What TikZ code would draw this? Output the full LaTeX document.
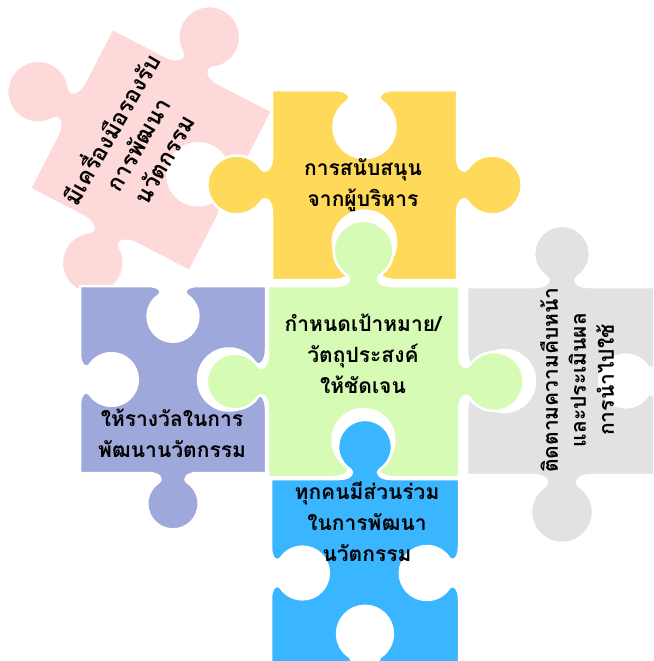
\documentclass[tikz,border=0pt]{standalone}
\usepackage{fontspec}
\newfontfamily\thaifont[Script=Thai]{Loma}
\definecolor{pinkP}{RGB}{253,217,217}
\definecolor{yellowP}{RGB}{255,217,90}
\definecolor{greenP}{RGB}{214,251,180}
\definecolor{purpleP}{RGB}{159,168,219}
\definecolor{greyP}{RGB}{226,226,226}
\definecolor{blueP}{RGB}{57,182,255}
\tikzset{
  % one puzzle tab or blank on an edge: mid point (#1,#2), turn #3,
  % #4 = 1 for a tab, -1 for a blank, #5 = size factor
  kn/.style n args={5}{insert path={
    -- ([shift={(#1,#2)},rotate=#3,yscale=#4,scale=#5]-30,0)
    .. controls ([shift={(#1,#2)},rotate=#3,yscale=#4,scale=#5]-16,0)
            and ([shift={(#1,#2)},rotate=#3,yscale=#4,scale=#5]-12,7.8)
         .. ([shift={(#1,#2)},rotate=#3,yscale=#4,scale=#5]-17,11.1)
    .. controls ([shift={(#1,#2)},rotate=#3,yscale=#4,scale=#5]-25.72,16.83)
            and ([shift={(#1,#2)},rotate=#3,yscale=#4,scale=#5]-31,26.56)
         .. ([shift={(#1,#2)},rotate=#3,yscale=#4,scale=#5]-31,37)
    .. controls ([shift={(#1,#2)},rotate=#3,yscale=#4,scale=#5]-31,54.12)
            and ([shift={(#1,#2)},rotate=#3,yscale=#4,scale=#5]-17.12,68)
         .. ([shift={(#1,#2)},rotate=#3,yscale=#4,scale=#5]0,68)
    .. controls ([shift={(#1,#2)},rotate=#3,yscale=#4,scale=#5]17.12,68)
            and ([shift={(#1,#2)},rotate=#3,yscale=#4,scale=#5]31,54.12)
         .. ([shift={(#1,#2)},rotate=#3,yscale=#4,scale=#5]31,37)
    .. controls ([shift={(#1,#2)},rotate=#3,yscale=#4,scale=#5]31,26.56)
            and ([shift={(#1,#2)},rotate=#3,yscale=#4,scale=#5]25.72,16.83)
         .. ([shift={(#1,#2)},rotate=#3,yscale=#4,scale=#5]17,11.1)
    .. controls ([shift={(#1,#2)},rotate=#3,yscale=#4,scale=#5]12,7.8)
            and ([shift={(#1,#2)},rotate=#3,yscale=#4,scale=#5]16,0)
         .. ([shift={(#1,#2)},rotate=#3,yscale=#4,scale=#5]30,0)
  }},
  piece/.style={draw=white, line width=2.5pt, line join=round},
  label/.style={text=black, align=center, font=\thaifont\bfseries\fontsize{21}{31}\selectfont, inner sep=0pt},
}
\begin{document}
\begin{tikzpicture}[x=1pt,y=-1pt]
\clip (0,0) rectangle (653,661);
\fill[white] (0,0) rectangle (653,661);

% tilted pink piece
\begin{scope}[shift={(151,150)},rotate=-27.3]
  \filldraw[piece, fill=pinkP] (90,-90) [kn={0}{-90}{180}{1}{1}] -- (-90,-90)
    [kn={-90}{0}{-90}{1}{1}] -- (-90,90)
    [kn={0}{90}{0}{1}{1}] -- (90,90)
    [kn={90}{0}{90}{-1}{1}] -- cycle;
  \node[label, rotate=60, font=\thaifont\bfseries\fontsize{23}{30}\selectfont] (tools) at (-17,1) {มีเครื่องมือรองรับ\\การพัฒนา\\นวัตกรรม};
\end{scope}

% yellow piece
\filldraw[piece, fill=yellowP] (457,90) [kn={364.5}{90}{180}{-1}{1}] -- (272,90)
  [kn={272}{185}{-90}{1}{0.95}] -- (272,280)
  [kn={364.5}{280}{0}{-1}{1.02}] -- (457,280)
  [kn={457}{185}{90}{1}{0.95}] -- cycle;

% purple piece
\filldraw[piece, fill=purpleP] (266,286) [kn={173}{286}{180}{-1}{0.82}] -- (80,286)
  [kn={80}{379.5}{-90}{-1}{0.85}] -- (80,473)
  [kn={173}{473}{0}{1}{0.83}] -- (266,473)
  [kn={266}{379.5}{90}{-1}{1}] -- cycle;

% grey piece
\filldraw[piece, fill=greyP] (657,287) [kn={562}{287}{180}{1}{0.9}] -- (467,287)
  [kn={467}{381}{-90}{-1}{1}] -- (467,475)
  [kn={562}{475}{0}{1}{1}] -- (657,475)
  [kn={657}{381}{90}{-1}{0.85}] -- cycle;

% green piece
\filldraw[piece, fill=greenP] (459,286) [kn={363.5}{286}{180}{1}{0.96}] -- (268,286)
  [kn={268}{381.5}{-90}{1}{0.9}] -- (268,477)
  [kn={363.5}{477}{0}{-1}{1}] -- (459,477)
  [kn={459}{381.5}{90}{1}{0.95}] -- cycle;

% blue piece
\filldraw[piece, fill=blueP] (459,479) [kn={365}{479}{180}{1}{0.87}] -- (271,479)
  [kn={271}{573}{-90}{-1}{0.85}] -- (271,667)
  [kn={365}{667}{0}{-1}{0.9}] -- (459,667)
  [kn={459}{573}{90}{-1}{0.87}] -- cycle;

\node[label] (support) at (363,185) {การสนับสนุน\\จากผู้บริหาร};
\node[label] (goal) at (363,354) {กำหนดเป้าหมาย/\\วัตถุประสงค์\\ให้ชัดเจน};
\node[label] (reward) at (172,433) {ให้รางวัลในการ\\พัฒนานวัตกรรม};
\node[label] (share) at (367,522) {ทุกคนมีส่วนร่วม\\ในการพัฒนา\\นวัตกรรม};
\node[label, rotate=90, font=\thaifont\bfseries\fontsize{21}{28}\selectfont] (track) at (577,380) {ติดตามความคืบหน้า\\และประเมินผล\\การนำไปใช้};
\end{tikzpicture}
\end{document}
